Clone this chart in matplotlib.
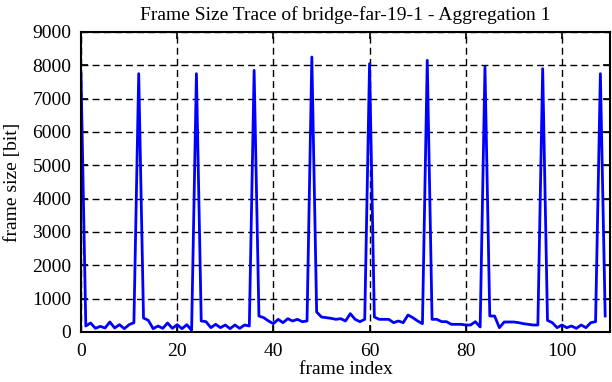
import numpy as np
import matplotlib
matplotlib.use("Agg")
import matplotlib.pyplot as plt

# frame sizes in bit, one per frame index
frame_size = [
    7750, 180, 270, 110, 170, 120, 300, 120, 220, 100, 220, 280,
    7750, 420, 350, 100, 180, 110, 270, 110, 220, 100, 220, 50,
    7750, 330, 310, 130, 230, 130, 210, 100, 210, 110, 210, 180,
    7850, 480, 430, 330, 250, 380, 280, 400, 330, 380, 310, 330,
    8250, 600, 450, 430, 410, 380, 400, 330, 550, 380, 310, 380,
    8050, 450, 380, 380, 380, 280, 330, 280, 510, 430, 330, 250,
    8150, 380, 380, 310, 310, 230, 230, 230, 210, 210, 310, 150,
    7950, 480, 480, 130, 300, 300, 300, 280, 250, 230, 210, 210,
    7900, 350, 280, 130, 210, 130, 180, 110, 210, 130, 280, 310,
    7750, 480,
]
frame_index = np.arange(len(frame_size))

xticks = [0, 20, 40, 60, 80, 100]
yticks = list(range(0, 9001, 1000))

plt.rcParams['font.family'] = ['Liberation Serif', 'DejaVu Serif']

fig = plt.figure(figsize=(6.12, 3.82), dpi=100, facecolor='white')
ax = fig.add_axes([81 / 612, 50 / 382, 529 / 612, 300 / 382])
ax.plot(frame_index, frame_size, color='#0000ff', linewidth=2.0)
ax.set_xlim(0, 110)
ax.set_ylim(0, 9000)
ax.set_xticks(xticks)
ax.set_yticks(yticks)
ax.grid(True, color='black', linestyle=(0, (5, 3)), linewidth=1.0)
ax.tick_params(axis='both', direction='in', top=True, right=True, length=5, width=1.2,
               labelsize=14)
ax.tick_params(axis='x', pad=8)
ax.tick_params(axis='y', pad=7)
for s in ax.spines.values():
    s.set_linewidth(1.5)
ax.set_xlabel("frame index", fontsize=14, labelpad=1)
ax.set_ylabel("frame size [bit]", fontsize=14, labelpad=8)
ax.set_title("Frame Size Trace of bridge-far-19-1 - Aggregation 1", fontsize=14, pad=9)
fig.savefig("out.png", dpi=100)
